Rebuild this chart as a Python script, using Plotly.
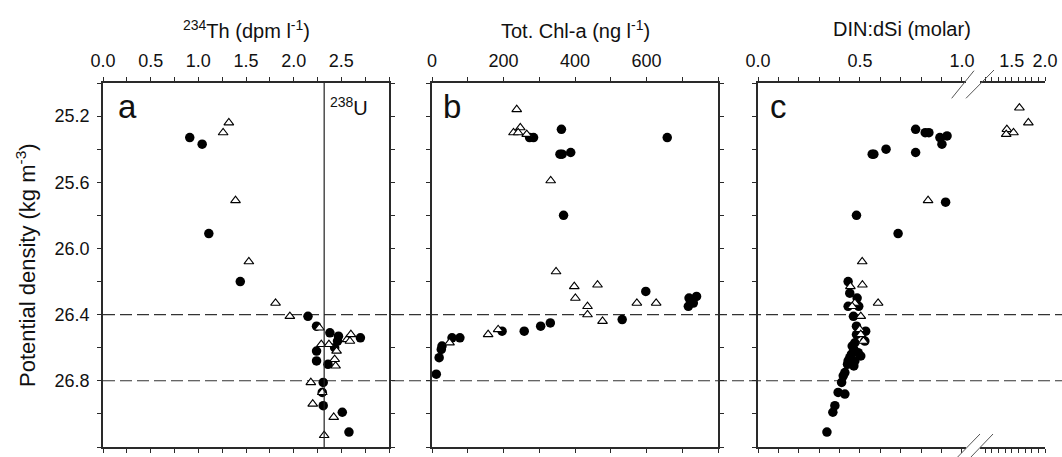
import plotly.graph_objects as go

# ---------------- data ----------------
# (a) 234Th activity vs potential density
th_filled_x = [0.91, 1.04, 1.11, 1.44, 2.15, 2.24, 2.38, 2.47, 2.46, 2.70, 2.43, 2.24,
               2.24, 2.36, 2.31, 2.30, 2.31, 2.51, 2.58]
th_filled_sig = [25.33, 25.37, 25.91, 26.20, 26.41, 26.47, 26.51, 26.53, 26.56, 26.54, 26.60,
                 26.62, 26.68, 26.70, 26.81, 26.87, 26.95, 26.99, 27.11]
th_open_x = [1.32, 1.26, 1.39, 1.53, 1.81, 1.96, 2.27, 2.29, 2.37, 2.56, 2.60, 2.59, 2.45,
             2.43, 2.44, 2.18, 2.30, 2.20, 2.42, 2.32]
th_open_sig = [25.24, 25.30, 25.71, 26.08, 26.33, 26.41, 26.48, 26.58, 26.58, 26.55, 26.52,
               26.56, 26.62, 26.67, 26.71, 26.81, 26.87, 26.94, 27.02, 27.13]
U238 = 2.32

# (b) total chlorophyll-a
chl_filled_x = [362, 273, 284, 658, 358, 364, 388, 368, 598, 532, 331, 304, 258, 196, 78, 56,
                28, 26, 20, 12, 717, 740, 719, 731]
chl_filled_sig = [25.28, 25.33, 25.33, 25.33, 25.43, 25.43, 25.42, 25.80, 26.26, 26.43, 26.45,
                  26.47, 26.50, 26.50, 26.54, 26.54, 26.59, 26.61, 26.66, 26.76, 26.35, 26.29,
                  26.30, 26.33]
chl_open_x = [237, 247, 228, 241, 265, 332, 347, 398, 463, 401, 435, 435, 477, 573, 627, 157,
              185, 49]
chl_open_sig = [25.16, 25.27, 25.30, 25.30, 25.31, 25.59, 26.14, 26.23, 26.22, 26.30, 26.35,
                26.40, 26.44, 26.33, 26.33, 26.52, 26.49, 26.57]

# (c) DIN:dSi molar ratio
din_filled_x = [0.773, 0.820, 0.838, 0.892, 0.927, 0.902, 0.773, 0.628, 0.560, 0.568, 0.920,
                0.687, 0.483, 0.442, 0.450, 0.486, 0.442, 0.494, 0.468, 0.483, 0.528, 0.524,
                0.483, 0.475, 0.470, 0.504, 0.458, 0.442, 0.491, 0.470, 0.439, 0.426, 0.418,
                0.410, 0.393, 0.426, 0.377, 0.367, 0.338, 0.462, 0.450, 0.475]
din_filled_sig = [25.28, 25.30, 25.30, 25.33, 25.32, 25.37, 25.42, 25.40, 25.43, 25.43, 25.72,
                  25.91, 25.80, 26.20, 26.27, 26.30, 26.35, 26.35, 26.41, 26.47, 26.50, 26.56,
                  26.52, 26.57, 26.61, 26.65, 26.64, 26.68, 26.63, 26.71, 26.70, 26.75, 26.77,
                  26.81, 26.87, 26.88, 26.95, 26.99, 27.11, 26.59, 26.66, 26.68]
din_open_x = [0.834, 0.511, 0.512, 0.589, 0.453, 0.475, 0.462, 0.504, 0.499, 0.504, 0.517,
              1.614, 1.749, 1.425, 1.525, 1.415]
din_open_sig = [25.71, 26.08, 26.22, 26.33, 26.23, 26.33, 26.35, 26.41, 26.49, 26.52, 26.56,
                25.15, 25.24, 25.28, 25.30, 25.31]

mixed_layer_sig = [26.4, 26.8]

# axis tick definitions
sig_range = [27.2, 25.0]
sig_major = [25.2, 25.6, 26.0, 26.4, 26.8]
sig_minor = [25.0, 25.4, 25.8, 26.2, 26.6, 27.0, 27.2]
th_major = [0.0, 0.5, 1.0, 1.5, 2.0, 2.5]
th_minor = [0.25, 0.75, 1.25, 1.75, 2.25, 2.75, 3.0]
chl_major = [0, 200, 400, 600]
chl_minor = [100, 300, 500, 700, 800]
din_lo_major = [0.0, 0.5, 1.0]
din_lo_minor = [0.1, 0.2, 0.3, 0.4, 0.6, 0.7, 0.8, 0.9]
din_hi_major = [1.5, 2.0]
din_hi_minor = [1.1, 1.2, 1.3, 1.4, 1.6, 1.7, 1.8, 1.9]

# ---------------- layout geometry ----------------
W, H = 1062, 457
ML, MR, MT, MB = 103, 17, 83, 10
PW = W - ML - MR
PH = H - MT - MB


def px(x):
    return (x - ML) / PW


def py(y):
    return 1 - (y - MT) / PH


dom_a = [0.0, px(389)]
dom_b = [px(432), px(718)]
dom_c_lo = [px(758), px(966)]
dom_c_hi = [px(980), 1.0]

FONT = "Liberation Sans, Arial, sans-serif"
AX = "#2a2a2a"
TICKFONT = dict(family=FONT, size=18, color="#111")


def fmt(v, nd):
    return f"{v:.{nd}f}" if nd else f"{v:g}"


def x_pair(dom, rng, major, minor, nd, anchor, base):
    outer = dict(domain=dom, range=rng, side="top", anchor=anchor,
                 showline=True, linecolor=AX, linewidth=1.8, mirror="ticks",
                 ticks="outside", ticklen=4, tickwidth=1.3, tickcolor=AX,
                 tickmode="array", tickvals=major,
                 ticktext=[fmt(v, nd) for v in major],
                 minor=dict(tickmode="array", tickvals=minor, ticks="outside",
                            ticklen=4, tickwidth=1.3, tickcolor=AX, showgrid=False),
                 tickfont=TICKFONT, ticklabelstandoff=3,
                 showgrid=False, zeroline=False, automargin=False)
    inner = dict(range=rng, side="top", anchor=anchor, overlaying=base,
                 showline=False, mirror="ticks",
                 ticks="inside", ticklen=4, tickwidth=1.3, tickcolor=AX,
                 tickmode="array", tickvals=major, showticklabels=False,
                 minor=dict(tickmode="array", tickvals=minor, ticks="inside",
                            ticklen=4, tickwidth=1.3, tickcolor=AX, showgrid=False),
                 showgrid=False, zeroline=False, automargin=False)
    return outer, inner


def y_axis(anchor, side, mirror, ticks, labels, overlaying=None, line=True):
    ax = dict(domain=[0, 1], range=sig_range, side=side, anchor=anchor,
              showline=line, linecolor=AX, linewidth=1.8, mirror=mirror,
              ticks=ticks, ticklen=4, tickwidth=1.3, tickcolor=AX,
              tickmode="array", tickvals=sig_major,
              ticktext=[f"{v:.1f}" for v in sig_major],
              showticklabels=labels,
              minor=dict(tickmode="array", tickvals=sig_minor, ticks=ticks,
                         ticklen=4, tickwidth=1.3, tickcolor=AX, showgrid=False),
              tickfont=TICKFONT, ticklabelstandoff=4,
              showgrid=False, zeroline=False, automargin=False)
    if overlaying:
        ax["overlaying"] = overlaying
    return ax


fig = go.Figure()

CIRC = dict(symbol="circle", size=9.5, color="black", line=dict(width=0))
TRI = dict(symbol="triangle-up", size=8.5, color="white",
           line=dict(color="black", width=1.1))

# panel a
fig.add_trace(go.Scatter(x=th_filled_x, y=th_filled_sig, mode="markers", marker=CIRC,
                         xaxis="x", yaxis="y", showlegend=False))
fig.add_trace(go.Scatter(x=th_open_x, y=th_open_sig, mode="markers", marker=TRI,
                         xaxis="x", yaxis="y", showlegend=False))
# panel b
fig.add_trace(go.Scatter(x=chl_filled_x, y=chl_filled_sig, mode="markers", marker=CIRC,
                         xaxis="x3", yaxis="y3", showlegend=False))
fig.add_trace(go.Scatter(x=chl_open_x, y=chl_open_sig, mode="markers", marker=TRI,
                         xaxis="x3", yaxis="y3", showlegend=False))
# panel c (broken x axis: low segment 0-1, high segment 1-2)
BREAK = 1.02
lo_open = [(x, s) for x, s in zip(din_open_x, din_open_sig) if x <= BREAK]
hi_open = [(x, s) for x, s in zip(din_open_x, din_open_sig) if x > BREAK]
fig.add_trace(go.Scatter(x=din_filled_x, y=din_filled_sig, mode="markers", marker=CIRC,
                         xaxis="x5", yaxis="y5", showlegend=False))
fig.add_trace(go.Scatter(x=[p[0] for p in lo_open], y=[p[1] for p in lo_open],
                         mode="markers", marker=TRI, xaxis="x5", yaxis="y5",
                         showlegend=False))
fig.add_trace(go.Scatter(x=[p[0] for p in hi_open], y=[p[1] for p in hi_open],
                         mode="markers", marker=TRI, xaxis="x7", yaxis="y5",
                         showlegend=False))

xa, xa_in = x_pair(dom_a, [0, 3.0], th_major, th_minor, 1, "y", "x")
xb, xb_in = x_pair(dom_b, [0, 800], chl_major, chl_minor, 0, "y3", "x3")
xcl, xcl_in = x_pair(dom_c_lo, [0, BREAK], din_lo_major, din_lo_minor, 1, "y5", "x5")
xch, xch_in = x_pair(dom_c_hi, [BREAK, 2.0], din_hi_major, din_hi_minor, 1, "y5", "x7")

layout_axes = dict(
    xaxis=xa, xaxis2=xa_in, xaxis3=xb, xaxis4=xb_in,
    xaxis5=xcl, xaxis6=xcl_in, xaxis7=xch, xaxis8=xch_in,
    yaxis=y_axis("x", "left", "ticks", "outside", True),
    yaxis2=y_axis("x", "left", "ticks", "inside", False, overlaying="y", line=False),
    yaxis3=y_axis("x3", "left", "ticks", "outside", False),
    yaxis4=y_axis("x3", "left", "ticks", "inside", False, overlaying="y3", line=False),
    yaxis5=y_axis("x5", "left", False, "outside", False),
    yaxis6=y_axis("x5", "left", False, "inside", False, overlaying="y5", line=False),
    yaxis7=y_axis("x7", "right", False, "outside", False, overlaying="y5"),
    yaxis8=y_axis("x7", "right", False, "inside", False, overlaying="y5", line=False),
)

shapes = []
# 238U activity reference line
shapes.append(dict(type="line", xref="x", yref="y domain", x0=U238, x1=U238, y0=0, y1=1,
                   line=dict(color="#222", width=1.2)))
# mixed-layer boundaries across all panels
for s in mixed_layer_sig:
    shapes.append(dict(type="line", xref="paper", yref="y", x0=0, x1=px(W), y0=s, y1=s,
                       line=dict(color="#333", width=1.1, dash="12px,5px"), layer="below"))
# axis-break marks on the DIN:dSi axis
for (x0, y0, x1, y1) in [(951.7, 98.3, 974, 70.7), (966, 98.3, 994, 70),
                         (956.7, 458, 980, 434), (970, 458, 993, 434)]:
    shapes.append(dict(type="line", xref="paper", yref="paper",
                       x0=px(x0), y0=py(y0), x1=px(x1), y1=py(y1),
                       line=dict(color="#555", width=1)))

TITLE = dict(family=FONT, size=20, color="#111")
annotations = [
    dict(text="<sup>234</sup>Th (dpm l<sup>-1</sup>)", x=sum(dom_a) / 2, y=py(29),
         xref="paper", yref="paper", showarrow=False, font=TITLE,
         xanchor="center", yanchor="middle"),
    dict(text="Tot. Chl-a (ng l<sup>-1</sup>)", x=sum(dom_b) / 2, y=py(29),
         xref="paper", yref="paper", showarrow=False, font=TITLE,
         xanchor="center", yanchor="middle"),
    dict(text="DIN:dSi (molar)", x=(dom_c_lo[0] + 1.0) / 2, y=py(29),
         xref="paper", yref="paper", showarrow=False, font=TITLE,
         xanchor="center", yanchor="middle"),
    dict(text="Potential density (kg m<sup>-3</sup>)", x=px(26), y=0.5,
         xref="paper", yref="paper", showarrow=False,
         font=dict(family=FONT, size=22, color="#111"), textangle=-90,
         xanchor="center", yanchor="middle"),
    dict(text="<sup>238</sup>U", x=U238, y=py(106), xref="x", yref="paper",
         xshift=4, showarrow=False, font=dict(family=FONT, size=20, color="#111"),
         xanchor="left", yanchor="middle"),
]
for lab, xp in [("a", px(116)), ("b", px(441)), ("c", px(768))]:
    annotations.append(dict(text=lab, x=xp, y=py(86), xref="paper", yref="paper",
                            showarrow=False, xanchor="left", yanchor="top",
                            font=dict(family=FONT, size=33, color="#111")))

fig.update_layout(
    width=W, height=H,
    margin=dict(l=ML, r=MR, t=MT, b=MB, pad=0),
    paper_bgcolor="white", plot_bgcolor="white",
    shapes=shapes, annotations=annotations,
    **layout_axes,
)

fig.write_html("out.html")
